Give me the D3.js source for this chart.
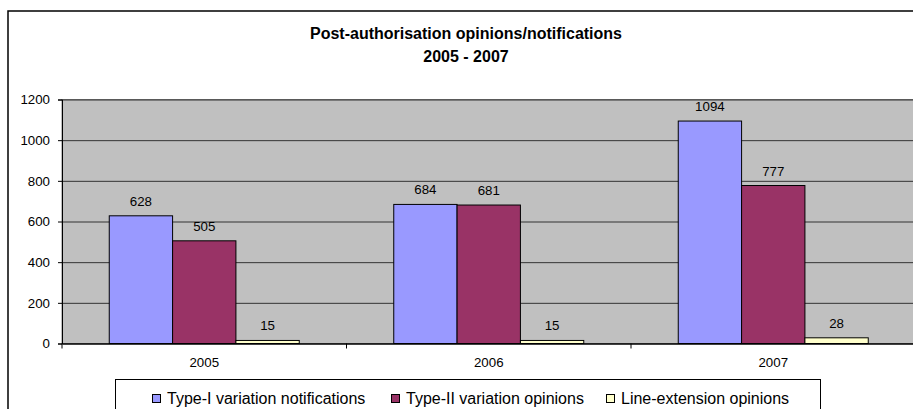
<!DOCTYPE html>
<html>
<head>
<meta charset="utf-8">
<script src="https://cdn.jsdelivr.net/npm/d3@7"></script>
<style>
  body { margin: 0; background: #fff; }
  svg { display: block; font-family: Arial, "Liberation Sans", sans-serif; }
</style>
</head>
<body>
<div id="wrapper"></div>
<script>
// data
const years = ["2005", "2006", "2007"]
const seriesNames = ["Type-I variation notifications", "Type-II variation opinions", "Line-extension opinions"]
const typeI = [628, 684, 1094]
const typeII = [505, 681, 777]
const lineExt = [15, 15, 28]
const yTicks = [0, 200, 400, 600, 800, 1000, 1200]
const colors = ["#9999FF", "#993366", "#FFFFCC"]

const seriesValues = [typeI, typeII, lineExt]
const dataset = years.map((year, i) => ({
  year,
  values: seriesNames.map((name, j) => ({ name, value: seriesValues[j][i] })),
}))

function drawBarChart() {
  const dimensions = {
    width: 913,
    height: 409,
    plotLeft: 62,
    plotRight: 915.5,
    plotTop: 99.5,
    plotBottom: 343.5,
  }
  const fontFamily = "Arial, 'Liberation Sans', sans-serif"

  const svg = d3.select("#wrapper")
    .append("svg")
      .attr("width", dimensions.width)
      .attr("height", dimensions.height)

  // outer chart frame (runs off the right and bottom edges)
  svg.append("rect")
      .attr("x", 8)
      .attr("y", 11)
      .attr("width", 920)
      .attr("height", 420)
      .attr("fill", "#fff")
      .attr("stroke", "#000")
      .attr("stroke-width", 1.5)

  // title
  const title = svg.append("text")
      .attr("text-anchor", "middle")
      .attr("font-weight", "bold")
      .attr("font-size", 16)
  title.append("tspan").attr("x", 466).attr("y", 39).text("Post-authorisation opinions/notifications")
  title.append("tspan").attr("x", 466).attr("y", 62).text("2005 - 2007")

  // scales
  const xScale = d3.scaleBand()
    .domain(years)
    .range([dimensions.plotLeft, dimensions.plotRight])

  const groupWidth = 190
  const groupOffset = (xScale.bandwidth() - groupWidth) / 2
  const x1Scale = d3.scaleBand()
    .domain(seriesNames)
    .range([groupOffset, groupOffset + groupWidth])

  const yScale = d3.scaleLinear()
    .domain([0, 1200])
    .range([dimensions.plotBottom, dimensions.plotTop])

  const colorScale = d3.scaleOrdinal()
    .domain(seriesNames)
    .range(colors)

  // plot area
  svg.append("rect")
      .attr("x", dimensions.plotLeft)
      .attr("y", dimensions.plotTop)
      .attr("width", dimensions.plotRight - dimensions.plotLeft)
      .attr("height", dimensions.plotBottom - dimensions.plotTop)
      .attr("fill", "#C0C0C0")
      .attr("stroke", "#808080")

  // grid lines
  const yGrid = d3.axisLeft(yScale)
    .tickValues(yTicks.filter(d => d > 0))
    .tickSize(-(dimensions.plotRight - dimensions.plotLeft))
    .tickFormat("")
  svg.append("g")
      .attr("transform", `translate(${dimensions.plotLeft},0)`)
    .call(yGrid)
    .call(g => g.select(".domain").remove())
    .call(g => g.selectAll("line").attr("stroke", "#333"))

  // bars
  const groups = svg.append("g")
    .selectAll("g")
    .data(dataset)
    .join("g")
      .attr("transform", d => `translate(${xScale(d.year)},0)`)

  groups.selectAll("rect")
    .data(d => d.values)
    .join("rect")
      .attr("x", d => x1Scale(d.name))
      .attr("y", d => yScale(d.value))
      .attr("width", x1Scale.bandwidth())
      .attr("height", d => yScale(0) - yScale(d.value))
      .attr("fill", d => colorScale(d.name))
      .attr("stroke", "#000")
      .attr("stroke-width", 1)

  groups.selectAll("text")
    .data(d => d.values)
    .join("text")
      .attr("x", d => x1Scale(d.name) + x1Scale.bandwidth() / 2)
      .attr("y", d => yScale(d.value) - 10)
      .attr("text-anchor", "middle")
      .attr("font-size", 13.3)
      .attr("fill", "#000")
      .text(d => d.value)

  // y axis
  const yAxisGenerator = d3.axisLeft(yScale)
    .tickValues(yTicks)
    .tickFormat(d3.format("d"))
    .tickSize(4)
    .tickPadding(8)
  svg.append("g")
      .attr("transform", `translate(${dimensions.plotLeft},0)`)
    .call(yAxisGenerator)
    .call(g => g.select(".domain").attr("stroke", "#000"))
    .call(g => g.selectAll("text").attr("font-size", 13.3).attr("font-family", fontFamily).attr("fill", "#000"))

  // x axis
  const xAxisGenerator = d3.axisBottom(xScale)
    .tickSize(0)
    .tickPadding(14)
  const xAxis = svg.append("g")
      .attr("transform", `translate(0,${dimensions.plotBottom})`)
    .call(xAxisGenerator)
    .call(g => g.select(".domain").attr("stroke", "#000").attr("stroke-width", 1.5))
    .call(g => g.selectAll("text").attr("font-size", 13.3).attr("font-family", fontFamily).attr("fill", "#000"))

  // category separator ticks
  xAxis.selectAll(".sep")
    .data(years)
    .join("line")
      .attr("class", "sep")
      .attr("x1", d => xScale(d))
      .attr("x2", d => xScale(d))
      .attr("y1", 0)
      .attr("y2", 5)
      .attr("stroke", "#000")

  // legend
  const legend = svg.append("g")
  legend.append("rect")
      .attr("x", 115.5)
      .attr("y", 379.5)
      .attr("width", 705)
      .attr("height", 40)
      .attr("fill", "#fff")
      .attr("stroke", "#000")

  const legendX = [152, 391, 606]
  const items = legend.selectAll("g")
    .data(seriesNames)
    .join("g")
      .attr("transform", (d, i) => `translate(${legendX[i]},0)`)

  items.append("rect")
      .attr("x", 0.5)
      .attr("y", 394.5)
      .attr("width", 8)
      .attr("height", 8)
      .attr("fill", d => colorScale(d))
      .attr("stroke", "#000")

  items.append("text")
      .attr("x", 15)
      .attr("y", 404)
      .attr("font-size", 16)
      .text(d => d)
}
drawBarChart()
</script>
</body>
</html>
